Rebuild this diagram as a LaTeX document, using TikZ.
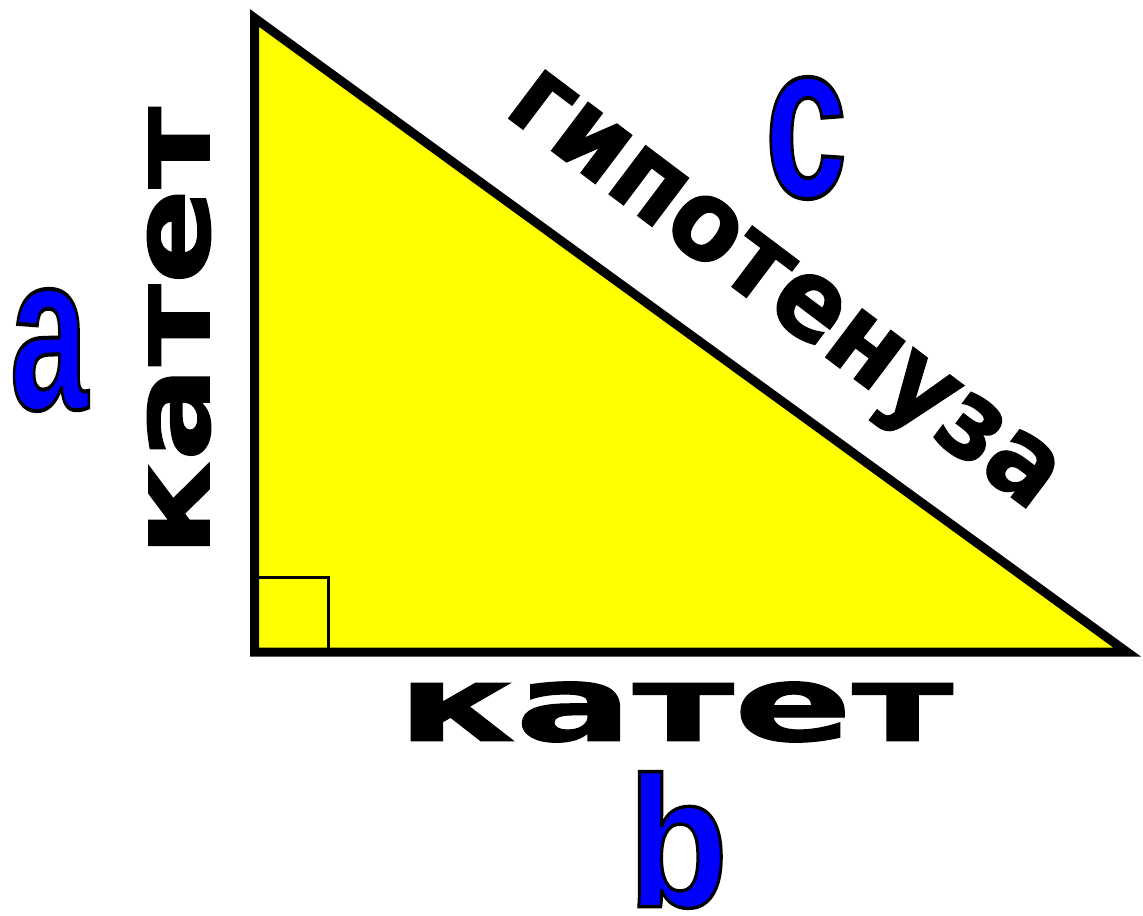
\documentclass[tikz,border=0pt]{standalone}
\usepackage{fontspec}
\usetikzlibrary{calc}
\newfontfamily\wordfont{DejaVu Sans}[BoldFeatures={FakeBold=1.2}]
\newfontfamily\letterfont{Liberation Sans}
\definecolor{triyellow}{RGB}{255,255,0}
\definecolor{letblue}{RGB}{0,0,255}
% blue letter with a thin black rim
\newcommand{\rimmed}[1]{%
  \special{pdf:literal direct 2 Tr 0 G 1.8 w}#1\special{pdf:literal direct 0 Tr}}
\tikzset{
  tri side/.style={
    draw=black, line width=4.5pt, line join=miter
  },
  tri mark/.style={
    draw=black, line width=1.5pt
  },
  side word/.style={
    inner sep=0pt, text=black, font=\wordfont\bfseries
  },
  side letter/.style={
    inner sep=0pt, text=letblue,
    font=\letterfont\bfseries\fontsize{100}{100}\selectfont
  }
}
\begin{document}
\begin{tikzpicture}[x=0.5pt, y=-0.5pt]
  \useasboundingbox (0,0) rectangle (1143,915);

  % corners
  \coordinate (A) at (254.5,18);
  \coordinate (C) at (254.5,652);
  \coordinate (B) at (1127,652);

  \fill [triyellow] (A) -- (C) -- (B) -- cycle;
  \draw [tri mark] (C) rectangle ($(C)+(74,-74.5)$);
  \draw [tri side] (A) -- (C) -- (B) -- cycle;

  % letters
  \node (let a) [side letter] at (49,350)
    {\resizebox{39pt}{60pt}{\rimmed{a}}};
  \node (let b) [side letter] at (678,840)
    {\resizebox{50pt}{67.5pt}{\rimmed{b}}};
  \node (let c) [side letter] at (806,138)
    {\resizebox{41pt}{60pt}{\rimmed{c}}};

  % words
  \node (cat a) [side word, rotate=90] at (179,332)
    {\resizebox{225pt}{31pt}{катет}};
  \node (cat b) [side word] at (675,712)
    {\resizebox{278pt}{29.5pt}{катет}};
  \node (hyp) [side word, rotate=-37, anchor=base] at (767,313)
    {\resizebox{332pt}{31pt}{гипотенуза}};
\end{tikzpicture}
\end{document}
